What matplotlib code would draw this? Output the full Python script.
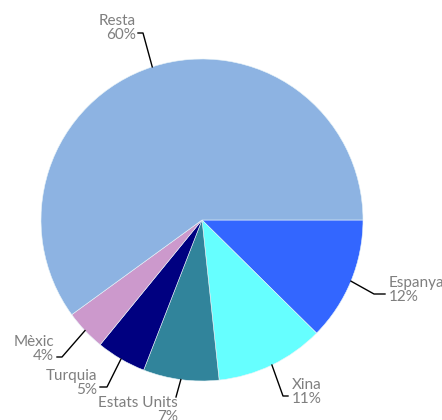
import numpy as np
import matplotlib
matplotlib.use("Agg")
import matplotlib.pyplot as plt

# ── Data ──────────────────────────────────────────────────────────────────────
countries = ["Espanya", "Xina", "Estats Units", "Turquia", "Mèxic", "Resta"]
shares    = [12.4, 10.9, 7.6, 5.0, 4.1, 60.0]
pct_text  = ["12%", "11%", "7%", "5%", "4%", "60%"]
colors    = ["#3366FF", "#66FFFF", "#31849B", "#000080", "#CC99CC", "#8DB3E2"]

# ── Layout (pixel coords, y down) ─────────────────────────────────────────────
W, H = 442, 420
CENTER = (202, 220)
RADIUS = 161
TEXT_COLOR = "#7F7F7F"
FONT = "Lato"
FSIZE = 11

# label layout: elbow point, line end point, text anchor, alignment
label_layout = {
    "Espanya":      dict(elbow=(374, 294), end=(385, 294), text=(389, 290), ha="left"),
    "Xina":         dict(elbow=(283, 396), end=(288, 396), text=(292, 392), ha="left"),
    "Estats Units": dict(elbow=(176, 397), end=(176, 397), text=(178, 410), ha="right"),
    "Turquia":      dict(elbow=(107, 387), end=(100, 387), text=(97, 383), ha="right"),
    "Mèxic":        dict(elbow=(62, 357), end=(57, 357), text=(54, 349), ha="right"),
    "Resta":        dict(elbow=(143, 33), end=(138, 33), text=(136, 28), ha="right"),
}

fig = plt.figure(figsize=(W / 100, H / 100), dpi=100)
ax = fig.add_axes([0, 0, 1, 1])

wedges, _ = ax.pie(shares, colors=colors, center=CENTER, radius=RADIUS,
                   startangle=0, counterclock=True,
                   wedgeprops=dict(linewidth=0.4, edgecolor="#E8F4F8"))

ax.set_xlim(0, W)
ax.set_ylim(H, 0)   # pixel-style coords; pie turns clockwise visually
ax.set_aspect("equal")
ax.axis("off")

for w, name, pct in zip(wedges, countries, pct_text):
    mid = np.deg2rad((w.theta1 + w.theta2) / 2)
    sx = CENTER[0] + RADIUS * np.cos(mid)
    sy = CENTER[1] + RADIUS * np.sin(mid)
    lay = label_layout[name]
    xs = [sx, lay["elbow"][0], lay["end"][0]]
    ys = [sy, lay["elbow"][1], lay["end"][1]]
    ax.plot(xs, ys, color="black", linewidth=1.0, clip_on=False)
    ax.text(lay["text"][0], lay["text"][1], f"{name}\n{pct}", ha=lay["ha"], va="center",
            color=TEXT_COLOR, fontsize=FSIZE, family=FONT, linespacing=1.05,
            multialignment=lay["ha"])

plt.savefig("out.png", dpi=100)
